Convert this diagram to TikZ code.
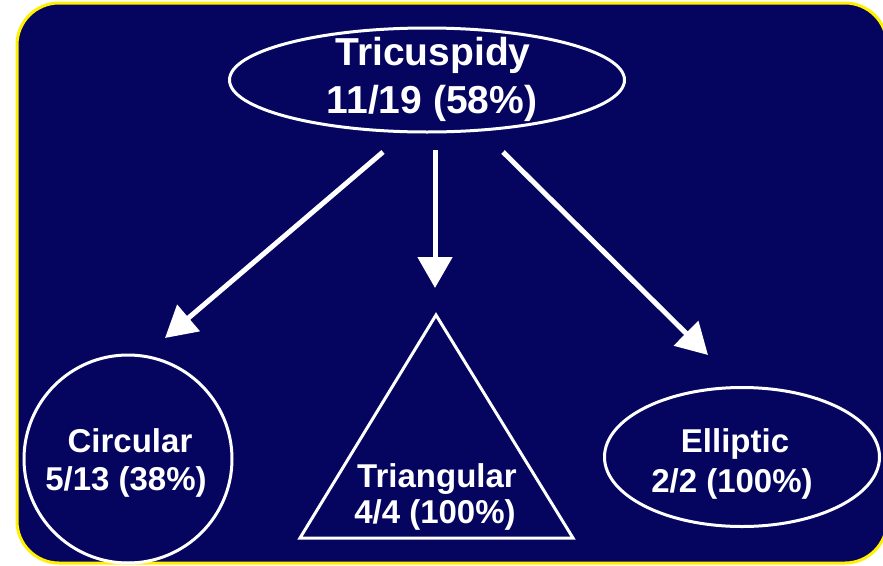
\documentclass[tikz,border=0pt]{standalone}
\usepackage{fontspec}
\setmainfont{Liberation Sans}
\usetikzlibrary{shapes.geometric,arrows.meta}
\definecolor{navy}{RGB}{5,5,96}
\definecolor{frame}{RGB}{255,240,0}
\begin{document}
\begin{tikzpicture}[x=1pt,y=-1pt,
  outline/.style={draw=white, line width=3pt, inner sep=0pt},
  big/.style={text=white, font=\bfseries\fontsize{39}{46}\selectfont, inner sep=0pt},
  small/.style={text=white, font=\bfseries\fontsize{33}{38}\selectfont, inner sep=0pt},
  arr/.style={draw=white, line width=5pt, -{Triangle[length=31pt,width=34pt]}}]
\useasboundingbox (0,0) rectangle (883,565);
\clip (0,0) rectangle (883,565);
\draw[fill=navy, draw=frame, line width=3pt, rounded corners=42pt] (17,3) rectangle (887,563);

% top ellipse
\node[outline, ellipse, minimum width=395pt, minimum height=104pt] (top) at (427,80) {};
\node[big, anchor=base] (toptxt1) at (433,65) {Tricuspidy};
\node[big, anchor=base] (toptxt2) at (432,113) {11/19 (58\%)};

% circle
\node[outline, circle, minimum size=208pt] (circ) at (128,459) {};
\node[small, anchor=base] (circtxt1) at (130,452) {Circular};
\node[small, anchor=base] (circtxt2) at (126,490) {5/13 (38\%)};

% triangle
\coordinate (triA) at (436,315);
\coordinate (triL) at (300,538);
\coordinate (triR) at (573,538);
\draw[outline, line join=miter] (triA) -- (triL) -- (triR) -- cycle;
\node[small, anchor=base] (tritxt1) at (437,487) {Triangular};
\node[small, anchor=base] (tritxt2) at (435,523) {4/4 (100\%)};

% ellipse
\node[outline, ellipse, minimum width=275pt, minimum height=139pt] (ell) at (742,457) {};
\node[small, anchor=base] (elltxt1) at (735,452) {Elliptic};
\node[small, anchor=base] (elltxt2) at (732,492) {2/2 (100\%)};

% arrows
\coordinate (s1) at (383,152);
\coordinate (e1) at (165,338);
\coordinate (s2) at (435,150);
\coordinate (e2) at (435,288);
\coordinate (s3) at (503,152);
\coordinate (e3) at (708,355);
\draw[arr] (s1) -- (e1);
\draw[arr] (s2) -- (e2);
\draw[arr] (s3) -- (e3);
\end{tikzpicture}
\end{document}
